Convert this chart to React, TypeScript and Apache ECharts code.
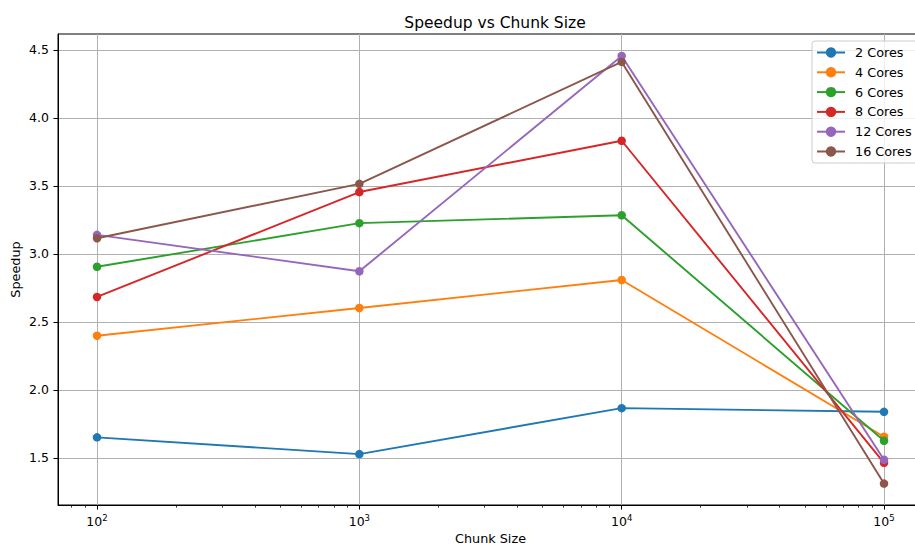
import React, { useEffect, useRef } from 'react';
import * as echarts from 'echarts';

const chunkSizes = [100, 1000, 10000, 100000];
const cores2 = [1.65, 1.527, 1.865, 1.838];
const cores4 = [2.398, 2.602, 2.808, 1.655];
const cores6 = [2.905, 3.226, 3.284, 1.625];
const cores8 = [2.683, 3.455, 3.832, 1.463];
const cores12 = [3.14, 2.872, 4.456, 1.485];
const cores16 = [3.115, 3.515, 4.412, 1.31];
const seriesNames = ['2 Cores', '4 Cores', '6 Cores', '8 Cores', '12 Cores', '16 Cores'];
const seriesValues = [cores2, cores4, cores6, cores8, cores12, cores16];
const colors = ['#1f77b4', '#ff7f0e', '#2ca02c', '#d62728', '#9467bd', '#8c564b'];
const yTicks = [1.5, 2.0, 2.5, 3.0, 3.5, 4.0, 4.5];
const xMajorTicks = [100, 1000, 10000, 100000];
const xMinorTicks = [
  80, 90,
  200, 300, 400, 500, 600, 700, 800, 900,
  2000, 3000, 4000, 5000, 6000, 7000, 8000, 9000,
  20000, 30000, 40000, 50000, 60000, 70000, 80000, 90000,
];

const FONT = 'DejaVu Sans';

export default function App() {
  const ref = useRef<HTMLDivElement>(null);
  useEffect(() => {
    if (!ref.current) return;
    const chart = echarts.init(ref.current, undefined, { renderer: 'svg' });
    const xMin = 71.0;
    const xMax = 140800;
    chart.setOption({
      animation: false,
      backgroundColor: '#ffffff',
      textStyle: { fontFamily: FONT },
      title: {
        text: 'Speedup vs Chunk Size',
        left: 490,
        top: 10,
        textAlign: 'center',
        textStyle: { fontFamily: FONT, fontSize: 15.5, fontWeight: 'normal', color: '#000' },
      },
      grid: {
        left: 58,
        top: 34,
        right: -8,
        bottom: 42,
        outerBoundsMode: 'none',
        containLabel: false,
        show: true,
        borderColor: '#000',
        borderWidth: 1,
        backgroundColor: 'transparent',
      },
      legend: {
        orient: 'vertical',
        left: 812,
        top: 41,
        padding: [5, 14, 5, 4],
        itemWidth: 28,
        itemHeight: 13,
        itemGap: 6.8,
        backgroundColor: 'rgba(255,255,255,0.8)',
        borderColor: '#cccccc',
        borderWidth: 1,
        borderRadius: 3,
        textStyle: { fontFamily: FONT, fontSize: 12.8, color: '#000', padding: [0, 0, 0, 5] },
        data: seriesNames,
      },
      xAxis: [
        {
          type: 'log',
          logBase: 10,
          min: xMin,
          max: xMax,
          name: 'Chunk Size',
          nameLocation: 'middle',
          nameGap: 27,
          nameMoveOverlap: false,
          nameTextStyle: { fontFamily: FONT, fontSize: 12.8, color: '#000' },
          axisLine: { show: true, onZero: false, lineStyle: { color: '#000', width: 1 } },
          axisTick: { show: true, length: 4.5, lineStyle: { color: '#000', width: 1 }, customValues: xMajorTicks },
          axisLabel: {
            show: true,
            margin: 8,
            customValues: xMajorTicks,
            formatter: (v: number) => `{b|10}{s|${Math.round(Math.log10(v))}}`,
            rich: {
              b: { fontFamily: FONT, fontSize: 12.5, color: '#000', verticalAlign: 'bottom' },
              s: { fontFamily: FONT, fontSize: 8.5, color: '#000', verticalAlign: 'bottom', padding: [0, 0, 6, 0] },
            },
          },
          splitLine: { show: true, lineStyle: { color: '#b0b0b0', width: 1 } },
          minorTick: { show: false },
        },
        {
          type: 'log',
          logBase: 10,
          min: xMin,
          max: xMax,
          position: 'bottom',
          axisLine: { show: false },
          axisTick: { show: true, length: 2.6, lineStyle: { color: '#000', width: 0.8 }, customValues: xMinorTicks },
          axisLabel: { show: false },
          splitLine: { show: false },
        },
      ],
      yAxis: {
        type: 'value',
        min: 1.1525,
        max: 4.6175,
        name: 'Speedup',
        nameLocation: 'middle',
        nameGap: 36,
        nameMoveOverlap: false,
        nameTextStyle: { fontFamily: FONT, fontSize: 12.8, color: '#000' },
        axisLine: { show: true, lineStyle: { color: '#000', width: 1 } },
        axisTick: { show: true, length: 4.5, lineStyle: { color: '#000', width: 1 }, customValues: yTicks },
        axisLabel: {
          margin: 9,
          customValues: yTicks,
          formatter: (v: number) => v.toFixed(1),
          fontFamily: FONT,
          fontSize: 12.5,
          color: '#000',
        },
        splitLine: { show: true, lineStyle: { color: '#b0b0b0', width: 1 } },
      },
      series: seriesNames.map((name, i) => ({
        name,
        type: 'line',
        xAxisIndex: 0,
        data: chunkSizes.map((c, j) => [c, seriesValues[i][j]]),
        symbol: 'circle',
        symbolSize: 8.5,
        showSymbol: true,
        lineStyle: { color: colors[i], width: 1.9 },
        itemStyle: { color: colors[i] },
        emphasis: { disabled: true },
        z: 2 + i,
      })),
    });
    return () => chart.dispose();
  }, []);
  return (
    <div
      ref={ref}
      style={{ position: 'fixed', left: 0, top: 0, width: 915, height: 547 }}
    />
  );
}
